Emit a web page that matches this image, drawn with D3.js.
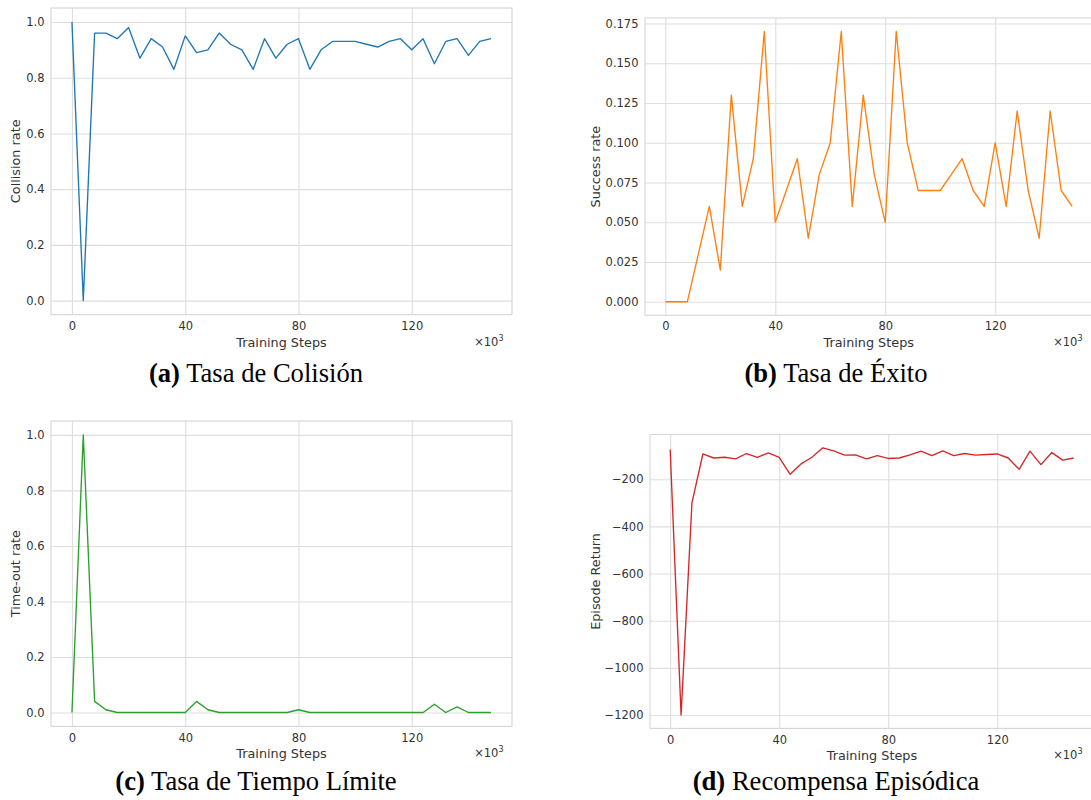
<!DOCTYPE html>
<html>
<head>
<meta charset="utf-8">
<script src="https://cdn.jsdelivr.net/npm/d3@7"></script>
<style>
  body { margin: 0; background: #fff; }
  .tick text { font-family: "DejaVu Sans", sans-serif; font-size: 11.5px; fill: #333; }
  .axis-label { font-family: "DejaVu Sans", sans-serif; font-size: 12.8px; fill: #333; }
  .caption { font-family: "Liberation Serif", "Times New Roman", serif; font-size: 26.6px; fill: #000; }
</style>
</head>
<body>
<svg id="chart"></svg>
<script>
// Training steps (x10^3), one evaluation every 4k steps.
const steps = [0, 4, 8, 12, 16, 20, 24, 28, 32, 36, 40, 44, 48, 52, 56, 60, 64, 68, 72,
  76, 80, 84, 88, 92, 96, 100, 104, 108, 112, 116, 120, 124, 128, 132, 136, 140, 144, 148];

const collisionRate = [1.0, 0.0, 0.96, 0.96, 0.94, 0.98, 0.87, 0.94, 0.91, 0.83, 0.95, 0.89,
  0.90, 0.96, 0.92, 0.90, 0.83, 0.94, 0.87, 0.92, 0.94, 0.83, 0.90, 0.93, 0.93, 0.93, 0.92,
  0.91, 0.93, 0.94, 0.90, 0.94, 0.85, 0.93, 0.94, 0.88, 0.93, 0.94];

const successRate = [0.0, 0.0, 0.0, 0.03, 0.06, 0.02, 0.13, 0.06, 0.09, 0.17, 0.05, 0.07,
  0.09, 0.04, 0.08, 0.10, 0.17, 0.06, 0.13, 0.08, 0.05, 0.17, 0.10, 0.07, 0.07, 0.07, 0.08,
  0.09, 0.07, 0.06, 0.10, 0.06, 0.12, 0.07, 0.04, 0.12, 0.07, 0.06];

const timeoutRate = [0.0, 1.0, 0.04, 0.01, 0.0, 0.0, 0.0, 0.0, 0.0, 0.0, 0.0, 0.04,
  0.01, 0.0, 0.0, 0.0, 0.0, 0.0, 0.0, 0.0, 0.01, 0.0, 0.0, 0.0, 0.0, 0.0, 0.0,
  0.0, 0.0, 0.0, 0.0, 0.0, 0.03, 0.0, 0.02, 0.0, 0.0, 0.0];

const episodeReturn = [-74, -1200, -299, -93, -110, -107, -114, -91, -107, -88, -107, -179,
  -135, -107, -67, -80, -98, -97, -114, -100, -112, -110, -97, -81, -100, -80, -100,
  -91, -98, -95, -93, -110, -158, -81, -138, -87, -119, -110];

const xTicks = [0, 40, 80, 120];
const rateTicks = [0, 0.2, 0.4, 0.6, 0.8, 1.0];
const successTicks = [0, 0.025, 0.05, 0.075, 0.1, 0.125, 0.15, 0.175];
const returnTicks = [-1200, -1000, -800, -600, -400, -200];

const yLabels = ['Collision rate', 'Success rate', 'Time-out rate', 'Episode Return'];
const captionTags = ['(a)', '(b)', '(c)', '(d)'];
const captionTexts = [' Tasa de Colisión', ' Tasa de Éxito', ' Tasa de Tiempo Límite', ' Recompensa Episódica'];

const width = 1091;
const height = 800;

const svg = d3.select('#chart')
  .attr('width', width)
  .attr('height', height)
  .attr('viewBox', `0 0 ${width} ${height}`);

// Pixel boxes of each axes area, and where the subfigure is centred.
const panels = [
  { values: collisionRate, ticks: rateTicks, fmt: d3.format('.1f'), color: '#1f77b4',
    left: 51, right: 512, top: 8, bottom: 314.6, labelX: 15, center: 256, captionY: 382 },
  { values: successRate, ticks: successTicks, fmt: d3.format('.3f'), color: '#ff7f0e',
    left: 645, right: 1092.5, top: 18, bottom: 315.3, labelX: 595, center: 836, captionY: 382 },
  { values: timeoutRate, ticks: rateTicks, fmt: d3.format('.1f'), color: '#2ca02c',
    left: 51, right: 512, top: 421, bottom: 726.4, labelX: 15, center: 256, captionY: 790 },
  { values: episodeReturn, ticks: returnTicks, fmt: (d) => d3.format('d')(d).replace('-', '\u2212'),
    color: '#d62728', left: 650, right: 1093.8, top: 434.5, bottom: 728.4, labelX: 595, center: 836, captionY: 790 },
];

// matplotlib style 5% margins round the data.
const padded = ([lo, hi]) => {
  const m = (hi - lo) * 0.05;
  return [lo - m, hi + m];
};

panels.forEach((p, i) => {
  const w = p.right - p.left;
  const h = p.bottom - p.top;

  const xScale = d3.scaleLinear()
    .domain(padded(d3.extent(steps)))
    .range([0, w]);

  const yScale = d3.scaleLinear()
    .domain(padded(d3.extent(p.values)))
    .range([h, 0]);

  const g = svg.append('g')
    .attr('transform', `translate(${p.left}, ${p.top})`);

  // X axis with vertical grid lines.
  const xAxis = d3.axisBottom(xScale)
    .tickValues(xTicks)
    .tickFormat(d3.format('d'))
    .tickSize(-h)
    .tickPadding(7);

  g.append('g')
    .attr('transform', `translate(0, ${h})`)
    .call(xAxis)
    .call((a) => a.select('.domain').remove())
    .call((a) => a.selectAll('.tick line').attr('stroke', '#dedede').attr('stroke-width', 1.1));

  // Y axis with horizontal grid lines.
  const yAxis = d3.axisLeft(yScale)
    .tickValues(p.ticks)
    .tickFormat(p.fmt)
    .tickSize(-w)
    .tickPadding(6.5);

  g.append('g')
    .call(yAxis)
    .call((a) => a.select('.domain').remove())
    .call((a) => a.selectAll('.tick line').attr('stroke', '#dedede').attr('stroke-width', 1.1));

  // Spines.
  g.append('rect')
    .attr('width', w)
    .attr('height', h)
    .attr('fill', 'none')
    .attr('stroke', '#d6d6d6')
    .attr('stroke-width', 1.1);

  const line = d3.line()
    .x((d, j) => xScale(steps[j]))
    .y((d) => yScale(d));

  g.append('path')
    .datum(p.values)
    .attr('d', line)
    .attr('fill', 'none')
    .attr('stroke', p.color)
    .attr('stroke-width', 1.35)
    .attr('stroke-linejoin', 'round');

  // Axis labels.
  svg.append('text')
    .attr('class', 'axis-label')
    .attr('x', (p.left + p.right) / 2)
    .attr('y', p.bottom + 32)
    .attr('text-anchor', 'middle')
    .text('Training Steps');

  // Offset text of the x axis (sits inside the visible page).
  const offset = svg.append('text')
    .attr('class', 'axis-label')
    .attr('x', Math.min(p.right, width) - 8.5)
    .attr('y', p.bottom + 31)
    .attr('text-anchor', 'end')
    .style('font-size', '11.5px');
  offset.append('tspan').text('\u00d710');
  offset.append('tspan')
    .attr('dy', -5)
    .style('font-size', '8px')
    .text('3');

  svg.append('text')
    .attr('class', 'axis-label')
    .attr('transform', `translate(${p.labelX + 4.5}, ${p.top + h / 2}) rotate(-90)`)
    .attr('text-anchor', 'middle')
    .text(yLabels[i]);

  // Caption under the subfigure.
  const cap = svg.append('text')
    .attr('class', 'caption')
    .attr('x', p.center)
    .attr('y', p.captionY)
    .attr('text-anchor', 'middle');
  cap.append('tspan').attr('font-weight', 'bold').text(captionTags[i]);
  cap.append('tspan').text(captionTexts[i]);
});
</script>
</body>
</html>
